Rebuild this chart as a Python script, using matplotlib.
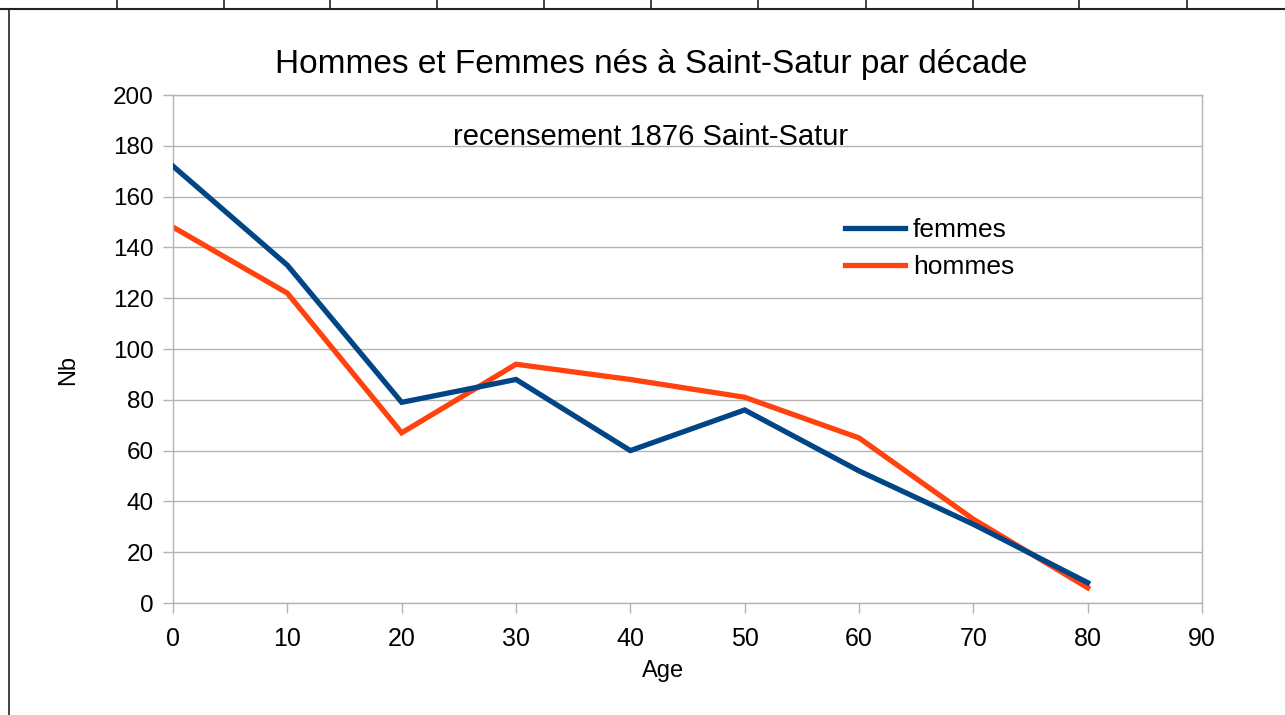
import matplotlib
matplotlib.use("Agg")
import matplotlib.pyplot as plt
from matplotlib.lines import Line2D

ages = [0, 10, 20, 30, 40, 50, 60, 70, 80]
femmes = [172, 133, 79, 88, 60, 76, 52, 31, 8]
hommes = [148, 122, 67, 94, 88, 81, 65, 33, 6]
x_ticks = list(range(0, 100, 10))
y_ticks = list(range(0, 220, 20))

plt.rcParams['font.family'] = ['Liberation Sans', 'DejaVu Sans']

W, H = 1285, 715
fig = plt.figure(figsize=(W / 100, H / 100), dpi=100)
ax = fig.add_axes([173 / W, 1 - 603 / H, (1202 - 173) / W, (603 - 95) / H])

grid_c = '#b3b3b3'
ax.plot(ages, femmes, color='#004586', lw=3.8, solid_joinstyle='miter', label='femmes', zorder=3)
ax.plot(ages, hommes, color='#ff420e', lw=3.8, solid_joinstyle='miter', label='hommes', zorder=2)

ax.set_xlim(0, 90)
ax.set_ylim(0, 200)
ax.set_xticks(x_ticks)
ax.set_yticks(y_ticks)
ax.yaxis.grid(True, color=grid_c, lw=1)
ax.xaxis.grid(False)
ax.set_axisbelow(True)
for s in ax.spines.values():
    s.set_color(grid_c)
    s.set_linewidth(1)
ax.tick_params(axis='both', colors=grid_c, labelcolor='black', labelsize=17.5, length=7.2, width=1)
ax.tick_params(axis='x', pad=10.2, labelsize=18)
ax.tick_params(axis='y', pad=6.8)

fig.text(663 / W, 1 - 671 / H, 'Age', ha='center', va='center', fontsize=17)
fig.text(68 / W, 1 - 370 / H, 'Nb', ha='center', va='center', fontsize=17, rotation=90)

fig.text(651 / W, 1 - 65 / H, 'Hommes et Femmes nés à Saint-Satur par décade',
         ha='center', va='center', fontsize=24)
fig.text(651 / W, 1 - 137 / H, 'recensement 1876 Saint-Satur',
         ha='center', va='center', fontsize=21)

handles = [Line2D([0], [0], color='#004586', lw=3.8), Line2D([0], [0], color='#ff420e', lw=3.8)]
fig.legend(handles, ['femmes', 'hommes'], loc='upper left',
           bbox_to_anchor=(845 / W, 1 - 218 / H), frameon=False, fontsize=19,
           handlelength=2.27, handletextpad=0.3, labelspacing=0.5,
           borderpad=0, borderaxespad=0)

# page / table frame
fig.add_artist(Line2D([9 / W, 9 / W], [0, 1 - 9 / H], color='#222222', lw=1.2, transform=fig.transFigure))
fig.add_artist(Line2D([0, 1], [1 - 9 / H, 1 - 9 / H], color='#222222', lw=1.5, transform=fig.transFigure))
for xc in [117, 224, 330, 437, 544, 651, 758, 866, 973, 1079, 1187]:
    fig.add_artist(Line2D([xc / W, xc / W], [1 - 9 / H, 1], color='#222222', lw=1.2, transform=fig.transFigure))

fig.savefig('out.png', dpi=100)
